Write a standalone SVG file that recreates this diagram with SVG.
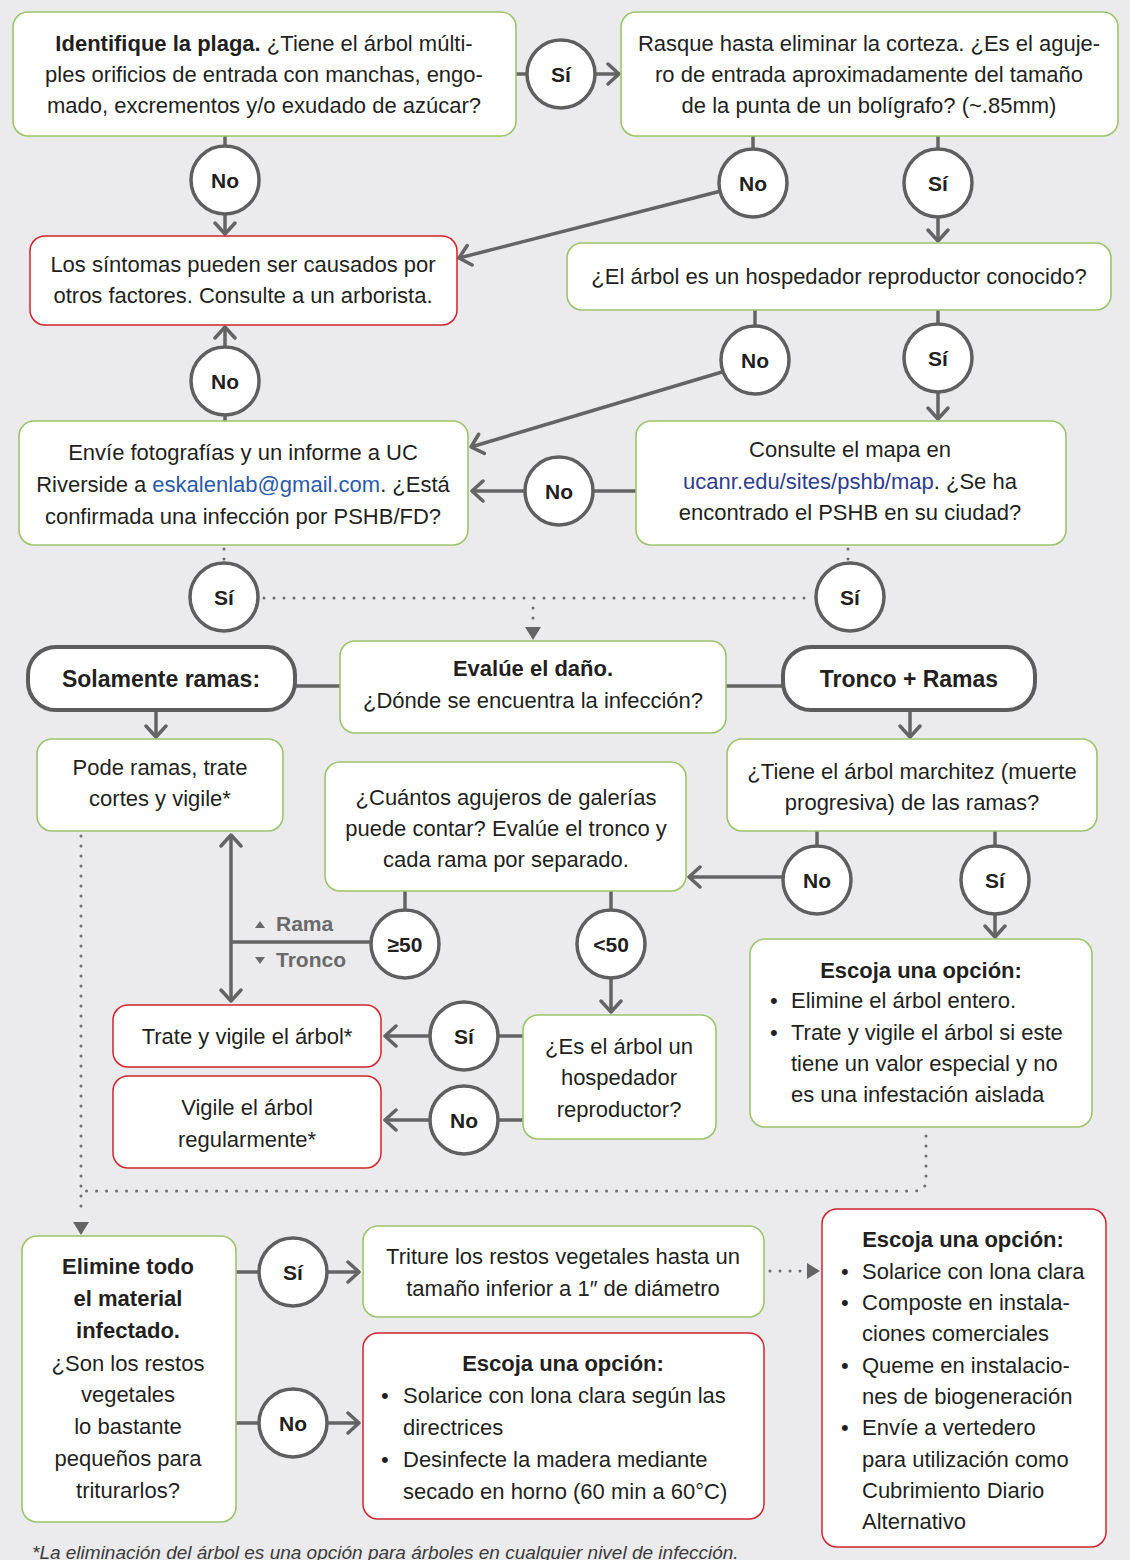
<svg xmlns="http://www.w3.org/2000/svg" width="1130" height="1560" viewBox="0 0 1130 1560">
<style>
.bg{fill:#ebebed}
.g{fill:#fff;stroke:#9dc46c;stroke-width:1.6}
.r{fill:#fff;stroke:#d1232d;stroke-width:1.5}
.pill{fill:#fff;stroke:#5c5c5c;stroke-width:4}
.c{fill:#fff;stroke:#5f5f5f;stroke-width:3.5}
.ln{fill:none;stroke:#646464;stroke-width:3.5}
.ar{fill:none;stroke:#646464;stroke-width:3.5;marker-end:url(#chev)}
.dot{fill:none;stroke:#6e6e6e;stroke-width:3;stroke-dasharray:0 10;stroke-linecap:round}
.t{font-family:"Liberation Sans",Arial,sans-serif;font-size:22px;fill:#231f20}
.m{text-anchor:middle}
.b{font-weight:bold}
.cl{font-family:"Liberation Sans",Arial,sans-serif;font-size:21px;font-weight:bold;fill:#231f20;text-anchor:middle}
.pl{font-family:"Liberation Sans",Arial,sans-serif;font-size:23px;font-weight:bold;fill:#231f20;text-anchor:middle}
.lk1{fill:#2a5aa8}
.lk2{fill:#2e3d8e}
.gl{font-family:"Liberation Sans",Arial,sans-serif;font-size:21px;font-weight:bold;fill:#6a6a6a}
.fn{font-family:"Liberation Sans",Arial,sans-serif;font-size:19px;font-style:italic;fill:#3a3a3a}
</style>
<defs>
<marker id="chev" viewBox="-14 -13 16 26" markerWidth="16" markerHeight="26" refX="0" refY="0" orient="auto" markerUnits="userSpaceOnUse">
<path d="M-11,-10 L0,0 L-11,10" fill="none" stroke="#646464" stroke-width="3.5" stroke-linejoin="round" stroke-linecap="round"/>
</marker>
</defs>
<rect class="bg" x="0" y="0" width="1130" height="1560"/>

<g id="connectors">
<line class="ln" x1="516" y1="74" x2="527" y2="74"/>
<line class="ar" x1="595" y1="74" x2="619" y2="74"/>
<line class="ln" x1="225" y1="136" x2="225" y2="146"/>
<line class="ar" x1="225" y1="214" x2="225" y2="234"/>
<line class="ln" x1="753" y1="136" x2="753" y2="149"/>
<line class="ar" x1="721" y1="191" x2="459" y2="258"/>
<line class="ln" x1="938" y1="136" x2="938" y2="149"/>
<line class="ar" x1="938" y1="217" x2="938" y2="241"/>
<line class="ln" x1="755" y1="310" x2="755" y2="326"/>
<line class="ar" x1="722" y1="372" x2="471" y2="447"/>
<line class="ln" x1="938" y1="310" x2="938" y2="324"/>
<line class="ar" x1="938" y1="392" x2="938" y2="419"/>
<line class="ln" x1="225" y1="421" x2="225" y2="415"/>
<line class="ar" x1="225" y1="347" x2="225" y2="327"/>
<line class="ln" x1="636" y1="491" x2="593" y2="491"/>
<line class="ar" x1="525" y1="491" x2="472" y2="491"/>
<line class="dot" x1="224" y1="549" x2="224" y2="560"/>
<line class="dot" x1="264" y1="598" x2="814" y2="598"/>
<line class="dot" x1="848" y1="549" x2="848" y2="560"/>
<line class="dot" x1="533" y1="608" x2="533" y2="620"/>
<path d="M525,627 L541,627 L533,640 Z" fill="#646464"/>
<line class="ln" x1="295" y1="686" x2="340" y2="686"/>
<line class="ln" x1="726" y1="686" x2="783" y2="686"/>
<line class="ar" x1="156" y1="710" x2="156" y2="737"/>
<line class="ar" x1="910" y1="710" x2="910" y2="737"/>
<line class="ln" x1="817" y1="831" x2="817" y2="846"/>
<line class="ar" x1="783" y1="877" x2="689" y2="877"/>
<line class="ln" x1="995" y1="831" x2="995" y2="846"/>
<line class="ar" x1="995" y1="914" x2="995" y2="937"/>
<line class="ln" x1="405" y1="891" x2="405" y2="910"/>
<line class="ln" x1="371" y1="942" x2="231" y2="942"/>
<line class="ar" x1="231" y1="942" x2="231" y2="835"/>
<line class="ar" x1="231" y1="942" x2="231" y2="1001"/>
<line class="ln" x1="611" y1="891" x2="611" y2="910"/>
<line class="ar" x1="611" y1="978" x2="611" y2="1012"/>
<line class="ln" x1="523" y1="1036" x2="498" y2="1036"/>
<line class="ar" x1="430" y1="1036" x2="385" y2="1036"/>
<line class="ln" x1="523" y1="1120" x2="498" y2="1120"/>
<line class="ar" x1="430" y1="1120" x2="385" y2="1120"/>
<line class="dot" x1="81" y1="836" x2="81" y2="1215"/>
<path d="M73,1222 L89,1222 L81,1235 Z" fill="#646464"/>
<path class="dot" d="M926,1136 L926,1180 Q926,1191 914,1191 L86,1191"/>
<line class="ln" x1="236" y1="1272" x2="259" y2="1272"/>
<line class="ar" x1="327" y1="1272" x2="359" y2="1272"/>
<line class="ln" x1="236" y1="1423" x2="259" y2="1423"/>
<line class="ar" x1="327" y1="1423" x2="359" y2="1423"/>
<line class="dot" x1="770" y1="1271" x2="802" y2="1271"/>
<path d="M807,1263 L820,1271 L807,1279 Z" fill="#646464"/>
<path d="M255,928 L260,921 L265,928 Z" fill="#6a6a6a"/>
<text class="gl" x="276" y="931">Rama</text>
<path d="M255,957 L265,957 L260,964 Z" fill="#6a6a6a"/>
<text class="gl" x="276" y="967">Tronco</text>
</g>

<g id="n-identifique">
<rect class="g" x="13" y="12" width="503" height="124" rx="15"/>
<text class="t m" x="264" y="51"><tspan class="b">Identifique la plaga.</tspan> ¿Tiene el árbol múlti-</text>
<text class="t m" x="264" y="82">ples orificios de entrada con manchas, engo-</text>
<text class="t m" x="264" y="113">mado, excrementos y/o exudado de azúcar?</text>
</g>
<g id="c-si1"><circle class="c" cx="561" cy="74" r="34"/><text class="cl" x="561" y="82">Sí</text></g>
<g id="n-rasque">
<rect class="g" x="621" y="12" width="497" height="124" rx="15"/>
<text class="t m" x="869" y="51">Rasque hasta eliminar la corteza. ¿Es el aguje-</text>
<text class="t m" x="869" y="82">ro de entrada aproximadamente del tamaño</text>
<text class="t m" x="869" y="113">de la punta de un bolígrafo? (~.85mm)</text>
</g>
<g id="c-no1"><circle class="c" cx="225" cy="180" r="34"/><text class="cl" x="225" y="188">No</text></g>
<g id="c-no2"><circle class="c" cx="753" cy="183" r="34"/><text class="cl" x="753" y="191">No</text></g>
<g id="c-si2"><circle class="c" cx="938" cy="183" r="34"/><text class="cl" x="938" y="191">Sí</text></g>
<g id="n-sintomas">
<rect class="r" x="30" y="236" width="427" height="89" rx="15"/>
<text class="t m" x="243" y="272">Los síntomas pueden ser causados por</text>
<text class="t m" x="243" y="303">otros factores. Consulte a un arborista.</text>
</g>
<g id="n-hospedador">
<rect class="g" x="567" y="243" width="544" height="67" rx="15"/>
<text class="t m" x="839" y="284">¿El árbol es un hospedador reproductor conocido?</text>
</g>
<g id="c-no3"><circle class="c" cx="225" cy="381" r="34"/><text class="cl" x="225" y="389">No</text></g>
<g id="c-no4"><circle class="c" cx="755" cy="360" r="34"/><text class="cl" x="755" y="368">No</text></g>
<g id="c-si3"><circle class="c" cx="938" cy="358" r="34"/><text class="cl" x="938" y="366">Sí</text></g>
<g id="n-envie">
<rect class="g" x="19" y="421" width="449" height="124" rx="15"/>
<text class="t m" x="243" y="460">Envíe fotografías y un informe a UC</text>
<text class="t m" x="243" y="492">Riverside a <tspan class="lk1">eskalenlab@gmail.com</tspan>. ¿Está</text>
<text class="t m" x="243" y="524">confirmada una infección por PSHB/FD?</text>
</g>
<g id="c-no5"><circle class="c" cx="559" cy="491" r="34"/><text class="cl" x="559" y="499">No</text></g>
<g id="n-mapa">
<rect class="g" x="636" y="421" width="430" height="124" rx="15"/>
<text class="t m" x="850" y="457">Consulte el mapa en</text>
<text class="t m" x="850" y="489"><tspan class="lk2">ucanr.edu/sites/pshb/map</tspan>. ¿Se ha</text>
<text class="t m" x="850" y="520">encontrado el PSHB en su ciudad?</text>
</g>
<g id="c-si4"><circle class="c" cx="224" cy="597" r="34"/><text class="cl" x="224" y="605">Sí</text></g>
<g id="c-si5"><circle class="c" cx="850" cy="597" r="34"/><text class="cl" x="850" y="605">Sí</text></g>
<g id="n-solamente">
<rect class="pill" x="28" y="647" width="267" height="63" rx="28"/>
<text class="pl" x="161" y="687">Solamente ramas:</text>
</g>
<g id="n-evalue">
<rect class="g" x="340" y="641" width="386" height="92" rx="15"/>
<text class="t m b" x="533" y="676">Evalúe el daño.</text>
<text class="t m" x="533" y="708">¿Dónde se encuentra la infección?</text>
</g>
<g id="n-tronco">
<rect class="pill" x="783" y="647" width="252" height="63" rx="28"/>
<text class="pl" x="909" y="687">Tronco + Ramas</text>
</g>
<g id="n-pode">
<rect class="g" x="37" y="739" width="246" height="92" rx="15"/>
<text class="t m" x="160" y="775">Pode ramas, trate</text>
<text class="t m" x="160" y="806">cortes y vigile*</text>
</g>
<g id="n-marchitez">
<rect class="g" x="727" y="739" width="370" height="92" rx="15"/>
<text class="t m" x="912" y="779">¿Tiene el árbol marchitez (muerte</text>
<text class="t m" x="912" y="810">progresiva) de las ramas?</text>
</g>
<g id="n-cuantos">
<rect class="g" x="325" y="762" width="361" height="129" rx="15"/>
<text class="t m" x="506" y="805">¿Cuántos agujeros de galerías</text>
<text class="t m" x="506" y="836">puede contar? Evalúe el tronco y</text>
<text class="t m" x="506" y="867">cada rama por separado.</text>
</g>
<g id="c-no6"><circle class="c" cx="817" cy="880" r="34"/><text class="cl" x="817" y="888">No</text></g>
<g id="c-si6"><circle class="c" cx="995" cy="880" r="34"/><text class="cl" x="995" y="888">Sí</text></g>
<g id="c-ge50"><circle class="c" cx="405" cy="944" r="34"/><text class="cl" x="405" y="952">≥50</text></g>
<g id="c-lt50"><circle class="c" cx="611" cy="944" r="34"/><text class="cl" x="611" y="952">&lt;50</text></g>
<g id="n-escoja1">
<rect class="g" x="750" y="939" width="342" height="188" rx="15"/>
<text class="t m b" x="921" y="978">Escoja una opción:</text>
<text class="t" x="770" y="1008">•</text><text class="t" x="791" y="1008">Elimine el árbol entero.</text>
<text class="t" x="770" y="1040">•</text><text class="t" x="791" y="1040">Trate y vigile el árbol si este</text>
<text class="t" x="791" y="1071">tiene un valor especial y no</text>
<text class="t" x="791" y="1102">es una infestación aislada</text>
</g>
<g id="n-trate">
<rect class="r" x="113" y="1005" width="268" height="62" rx="15"/>
<text class="t m" x="247" y="1044">Trate y vigile el árbol*</text>
</g>
<g id="n-vigile">
<rect class="r" x="113" y="1076" width="268" height="92" rx="15"/>
<text class="t m" x="247" y="1115">Vigile el árbol</text>
<text class="t m" x="247" y="1147">regularmente*</text>
</g>
<g id="c-si7"><circle class="c" cx="464" cy="1036" r="34"/><text class="cl" x="464" y="1044">Sí</text></g>
<g id="c-no7"><circle class="c" cx="464" cy="1120" r="34"/><text class="cl" x="464" y="1128">No</text></g>
<g id="n-esarbol">
<rect class="g" x="523" y="1015" width="193" height="124" rx="15"/>
<text class="t m" x="619" y="1054">¿Es el árbol un</text>
<text class="t m" x="619" y="1085">hospedador</text>
<text class="t m" x="619" y="1117">reproductor?</text>
</g>
<g id="n-elimine">
<rect class="g" x="22" y="1236" width="214" height="286" rx="15"/>
<text class="t m b" x="128" y="1274">Elimine todo</text>
<text class="t m b" x="128" y="1306">el material</text>
<text class="t m b" x="128" y="1338">infectado.</text>
<text class="t m" x="128" y="1371">¿Son los restos</text>
<text class="t m" x="128" y="1402">vegetales</text>
<text class="t m" x="128" y="1434">lo bastante</text>
<text class="t m" x="128" y="1466">pequeños para</text>
<text class="t m" x="128" y="1498">triturarlos?</text>
</g>
<g id="c-si8"><circle class="c" cx="293" cy="1272" r="34"/><text class="cl" x="293" y="1280">Sí</text></g>
<g id="c-no8"><circle class="c" cx="293" cy="1423" r="34"/><text class="cl" x="293" y="1431">No</text></g>
<g id="n-triture">
<rect class="g" x="363" y="1226" width="401" height="91" rx="15"/>
<text class="t m" x="563" y="1264">Triture los restos vegetales hasta un</text>
<text class="t m" x="563" y="1296">tamaño inferior a 1″ de diámetro</text>
</g>
<g id="n-escoja2">
<rect class="r" x="363" y="1333" width="401" height="186" rx="15"/>
<text class="t m b" x="563" y="1371">Escoja una opción:</text>
<text class="t" x="381" y="1403">•</text><text class="t" x="403" y="1403">Solarice con lona clara según las</text>
<text class="t" x="403" y="1435">directrices</text>
<text class="t" x="381" y="1467">•</text><text class="t" x="403" y="1467">Desinfecte la madera mediante</text>
<text class="t" x="403" y="1499">secado en horno (60 min a 60°C)</text>
</g>
<g id="n-escoja3">
<rect class="r" x="822" y="1209" width="284" height="338" rx="15"/>
<text class="t m b" x="963" y="1247">Escoja una opción:</text>
<text class="t" x="841" y="1279">•</text><text class="t" x="862" y="1279">Solarice con lona clara</text>
<text class="t" x="841" y="1310">•</text><text class="t" x="862" y="1310">Composte en instala-</text>
<text class="t" x="862" y="1341">ciones comerciales</text>
<text class="t" x="841" y="1373">•</text><text class="t" x="862" y="1373">Queme en instalacio-</text>
<text class="t" x="862" y="1404">nes de biogeneración</text>
<text class="t" x="841" y="1435">•</text><text class="t" x="862" y="1435">Envíe a vertedero</text>
<text class="t" x="862" y="1467">para utilización como</text>
<text class="t" x="862" y="1498">Cubrimiento Diario</text>
<text class="t" x="862" y="1529">Alternativo</text>
</g>
<text class="fn" x="32" y="1559">*La eliminación del árbol es una opción para árboles en cualquier nivel de infección.</text>
</svg>
